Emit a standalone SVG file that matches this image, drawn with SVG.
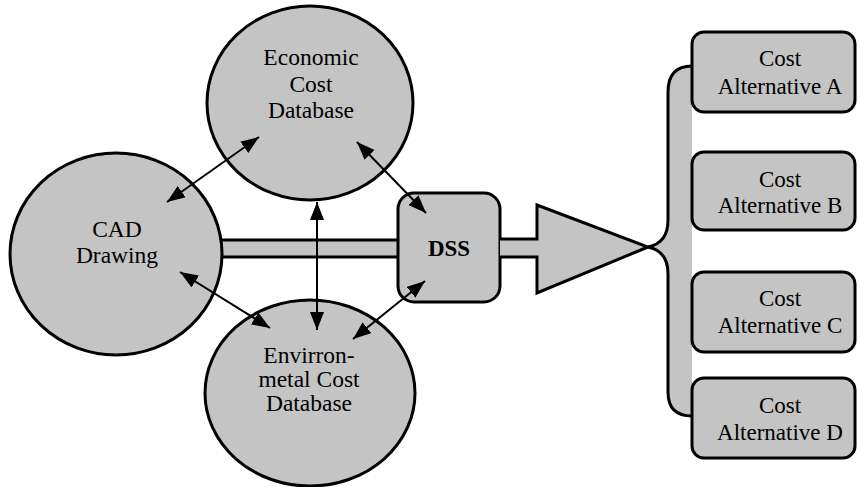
<svg xmlns="http://www.w3.org/2000/svg" width="857" height="487" viewBox="0 0 857 487">
<defs>
<style>
.sh{fill:#c4c4c4;stroke:#000;stroke-width:3}
.t{font-family:'Liberation Serif','DejaVu Serif',serif;font-size:23.5px;fill:#000;text-anchor:middle}
.a{font-size:23px}
.b{font-weight:bold}
.c{stroke:#000;stroke-width:2;fill:none;marker-start:url(#ah);marker-end:url(#ah)}
</style>
<marker id="ah" markerUnits="userSpaceOnUse" markerWidth="20" markerHeight="16" refX="18" refY="7" orient="auto-start-reverse">
<path d="M0,0 L18,7 L0,14 z" fill="#000"/>
</marker>
</defs>
<rect width="857" height="487" fill="#fff"/>

<g id="bar">
<rect x="205" y="240" width="195" height="17" fill="#c4c4c4"/>
<line x1="205" y1="240" x2="400" y2="240" stroke="#000" stroke-width="3"/>
<line x1="205" y1="257" x2="400" y2="257" stroke="#000" stroke-width="3"/>
</g>

<g id="economic">
<ellipse class="sh" cx="310" cy="103" rx="103" ry="97"/>
<text class="t" x="311" y="65">Economic</text>
<text class="t" x="311" y="92">Cost</text>
<text class="t" x="311" y="118">Database</text>
</g>

<g id="cad">
<ellipse class="sh" cx="116" cy="254" rx="106" ry="101"/>
<text class="t" x="117" y="237">CAD</text>
<text class="t" x="117" y="263">Drawing</text>
</g>

<g id="environmental">
<ellipse class="sh" cx="310" cy="393" rx="105" ry="93"/>
<text class="t" x="309" y="363">Envirron-</text>
<text class="t" x="309" y="387">metal Cost</text>
<text class="t" x="309" y="411">Database</text>
</g>

<g id="dss">
<rect class="sh" x="398" y="193" width="102" height="109" rx="16"/>
<text class="t b a" x="449" y="256">DSS</text>
</g>

<g id="output-arrow">
<path class="sh" d="M500,239 L537,239 L537,205 L648,247 L537,293 L537,257 L500,257"/>
</g>

<g id="bracket">
<path class="sh" d="M692,66 Q668,66 668,92 L668,220 Q668,243 648,247 Q668,251 668,274 L668,392 Q668,416 692,416"/>
</g>

<g id="alt-a">
<rect class="sh" x="692" y="32" width="163" height="80" rx="12"/>
<text class="t a" x="780" y="66">Cost</text>
<text class="t a" x="780" y="94">Alternative A</text>
</g>
<g id="alt-b">
<rect class="sh" x="692" y="152" width="163" height="78" rx="12"/>
<text class="t a" x="780" y="187">Cost</text>
<text class="t a" x="780" y="213">Alternative B</text>
</g>
<g id="alt-c">
<rect class="sh" x="692" y="272" width="163" height="80" rx="12"/>
<text class="t a" x="780" y="306">Cost</text>
<text class="t a" x="780" y="333">Alternative C</text>
</g>
<g id="alt-d">
<rect class="sh" x="692" y="378" width="163" height="80" rx="12"/>
<text class="t a" x="780" y="413">Cost</text>
<text class="t a" x="780" y="440">Alternative D</text>
</g>

<g id="connectors">
<line class="c" x1="167" y1="202" x2="259" y2="137"/>
<line class="c" x1="357" y1="142" x2="426" y2="213"/>
<line class="c" x1="317" y1="202" x2="317" y2="330"/>
<line class="c" x1="180" y1="272" x2="270" y2="328"/>
<line class="c" x1="353" y1="339" x2="425" y2="281"/>
</g>
</svg>
